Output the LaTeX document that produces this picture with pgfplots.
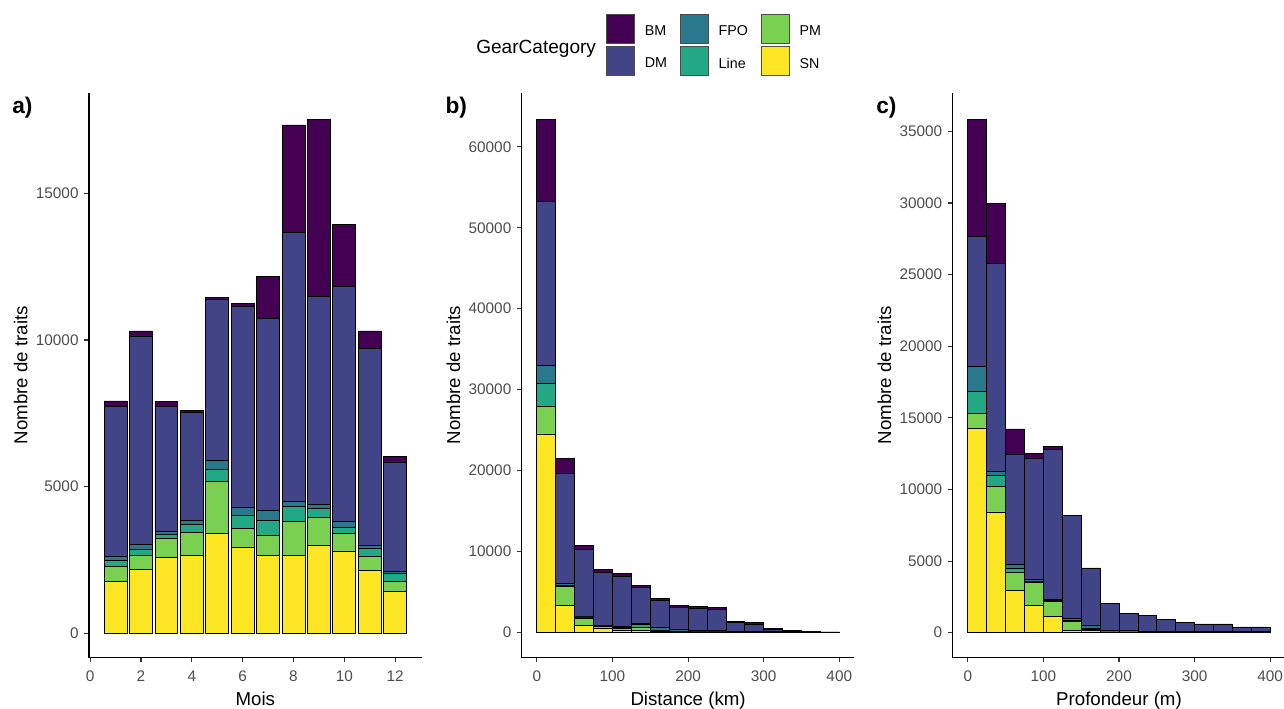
\documentclass[border=0pt]{standalone}
\usepackage{fontspec}
\setmainfont{Liberation Sans}
\usepackage{pgfplots}
\usepackage{pgfplotstable}
\pgfplotsset{compat=1.18}
\definecolor{cBM}{HTML}{440154}
\definecolor{cDM}{HTML}{414487}
\definecolor{cFPO}{HTML}{2A788E}
\definecolor{cLine}{HTML}{22A884}
\definecolor{cPM}{HTML}{7AD151}
\definecolor{cSN}{HTML}{FDE725}
\definecolor{tickgray}{HTML}{4D4D4D}
\definecolor{tickmark}{HTML}{333333}

\pgfplotstableread{
m SN PM Line FPO DM BM
1 1750 510 230 140 5110 180
2 2170 490 190 180 7110 170
3 2570 650 160 100 4260 150
4 2660 780 280 130 3690 70
5 3400 1760 420 300 5510 50
6 2940 640 420 280 6870 110
7 2660 690 490 330 6570 1420
8 2660 1140 510 180 9170 3680
9 2980 960 320 140 7090 6030
10 2800 600 190 210 8040 2110
11 2150 460 270 110 6710 610
12 1430 320 300 50 3740 190
}\dataa

\pgfplotstableread{
x SN PM Line FPO DM BM
12.5 24500 3420 2850 2190 20330 10110
37.5 3250 2390 200 140 13700 1810
62.5 780 980 110 65 8290 490
87.5 410 255 100 50 6560 335
112.5 255 225 140 40 6230 370
137.5 255 295 370 100 4540 195
162.5 60 60 100 350 3400 150
187.5 30 40 60 245 2720 195
212.5 20 20 40 175 2660 245
237.5 20 20 40 165 2510 245
262.5 0 10 20 90 1120 125
287.5 0 0 0 80 825 245
312.5 0 0 0 40 335 120
337.5 0 0 0 40 80 80
362.5 0 0 0 10 15 5
387.5 0 0 0 5 10 5
}\datab

\pgfplotstableread{
x SN PM Line FPO DM BM
12.5 14300 980 1580 1750 9080 8150
37.5 8430 1790 750 300 14490 4190
62.5 2930 1310 280 230 7730 1750
87.5 1890 1620 100 90 8500 300
112.5 1140 1030 70 70 10500 210
137.5 150 620 120 130 7150 0
162.5 140 60 100 240 3980 0
187.5 0 0 0 170 1856 0
212.5 0 0 0 130 1240 0
237.5 0 0 0 120 1070 0
262.5 0 0 0 110 800 0
287.5 0 0 0 100 620 0
312.5 0 0 0 90 520 0
337.5 0 0 0 90 520 0
362.5 0 0 0 80 320 0
387.5 0 0 0 80 320 0
}\datac

\pgfplotsset{
 panel/.style={
  scale only axis, width=249.5pt, height=423.75pt,
  anchor=south west,
  ybar stacked,
  axis x line*=bottom, axis y line*=left,
  axis line style={black, line width=0.8pt, -},
  tick align=outside, major tick length=3.5pt,
  every tick/.style={tickmark, line width=0.8pt},
  tick label style={font=\fontsize{11.5}{13}\selectfont, text=tickgray},
  xticklabel style={yshift=-2.6pt},
  yticklabel style={xshift=-0.8pt},
  /pgf/number format/assume math mode=true,
  /pgf/number format/1000 sep={},
  scaled y ticks=false,
  xlabel style={font=\fontsize{14}{16}\selectfont, at={(axis description cs:0.5,-0.0837)}, anchor=base},
  ylabel style={font=\fontsize{14}{16}\selectfont, at={(axis description cs:-0.205,0.5)}, anchor=center},
  ylabel={Nombre de traits},
  every axis plot/.append style={draw=black, line width=0.55pt},
 }
}

\begin{document}
\begin{tikzpicture}
\useasboundingbox (0,0) rectangle (963pt,-531.75pt);

% panel a
\begin{axis}[panel, at={(66.75pt,-493.3pt)}, xmin=-0.045, xmax=13.045, ymin=-843, ymax=18440,
  bar width=0.9, xtick={0,2,...,12}, ytick={0,5000,10000,15000}, xlabel={Mois}]
\addplot[fill=cSN] table[x=m,y=SN]{\dataa};
\addplot[fill=cPM] table[x=m,y=PM]{\dataa};
\addplot[fill=cLine] table[x=m,y=Line]{\dataa};
\addplot[fill=cFPO] table[x=m,y=FPO]{\dataa};
\addplot[fill=cDM] table[x=m,y=DM]{\dataa};
\addplot[fill=cBM] table[x=m,y=BM]{\dataa};
\end{axis}

% panel b
\begin{axis}[panel, at={(391.3pt,-493.3pt)}, xmin=-20, xmax=420, ymin=-3170, ymax=66700,
  bar width=25, xtick={0,100,200,300,400}, ytick={0,10000,...,60000}, xlabel={Distance (km)}]
\addplot[fill=cSN] table[x=x,y=SN]{\datab};
\addplot[fill=cPM] table[x=x,y=PM]{\datab};
\addplot[fill=cLine] table[x=x,y=Line]{\datab};
\addplot[fill=cFPO] table[x=x,y=FPO]{\datab};
\addplot[fill=cDM] table[x=x,y=DM]{\datab};
\addplot[fill=cBM] table[x=x,y=BM]{\datab};
\end{axis}

% panel c
\begin{axis}[panel, at={(714.5pt,-493.3pt)}, xmin=-20, xmax=420, ymin=-1750, ymax=37700,
  bar width=25, xtick={0,100,200,300,400}, ytick={0,5000,...,35000}, xlabel={Profondeur (m)}]
\addplot[fill=cSN] table[x=x,y=SN]{\datac};
\addplot[fill=cPM] table[x=x,y=PM]{\datac};
\addplot[fill=cLine] table[x=x,y=Line]{\datac};
\addplot[fill=cFPO] table[x=x,y=FPO]{\datac};
\addplot[fill=cDM] table[x=x,y=DM]{\datac};
\addplot[fill=cBM] table[x=x,y=BM]{\datac};
\end{axis}

% legend
\begin{axis}[hide axis, scale only axis, width=10pt, height=10pt, anchor=north west,
  at={(454.3pt,-10pt)}, xmin=0, xmax=1, ymin=0, ymax=1,
  legend columns=3, legend cell align=left,
  legend style={at={(0,1)}, anchor=north west, draw=none, inner sep=0pt,
    font=\fontsize{10.7}{12}\selectfont, row sep=1.7pt,
    nodes={inner sep=0pt},
    /tikz/every odd column/.append style={column sep=7.5pt},
    /tikz/every even column/.append style={column sep=9.5pt}},
  legend image code/.code={\draw[#1, draw=black!70, line width=0.5pt] (0pt,-8.8pt) rectangle (21.2pt,13.3pt);}]
\addlegendimage{fill=cBM}\addlegendentry{BM}
\addlegendimage{fill=cFPO}\addlegendentry{FPO}
\addlegendimage{fill=cPM}\addlegendentry{PM}
\addlegendimage{fill=cDM}\addlegendentry{DM}
\addlegendimage{fill=cLine}\addlegendentry{Line}
\addlegendimage{fill=cSN}\addlegendentry{SN}
\end{axis}

\node[anchor=base west, inner sep=0pt, font=\fontsize{14.3}{16}\selectfont] at (357pt,-40pt) {GearCategory};

\node[anchor=base west, inner sep=0pt, font=\fontsize{17}{19}\selectfont\bfseries] at (9pt,-85pt) {a)};
\node[anchor=base west, inner sep=0pt, font=\fontsize{17}{19}\selectfont\bfseries] at (334pt,-85pt) {b)};
\node[anchor=base west, inner sep=0pt, font=\fontsize{17}{19}\selectfont\bfseries] at (657pt,-85pt) {c)};
\end{tikzpicture}
\end{document}
